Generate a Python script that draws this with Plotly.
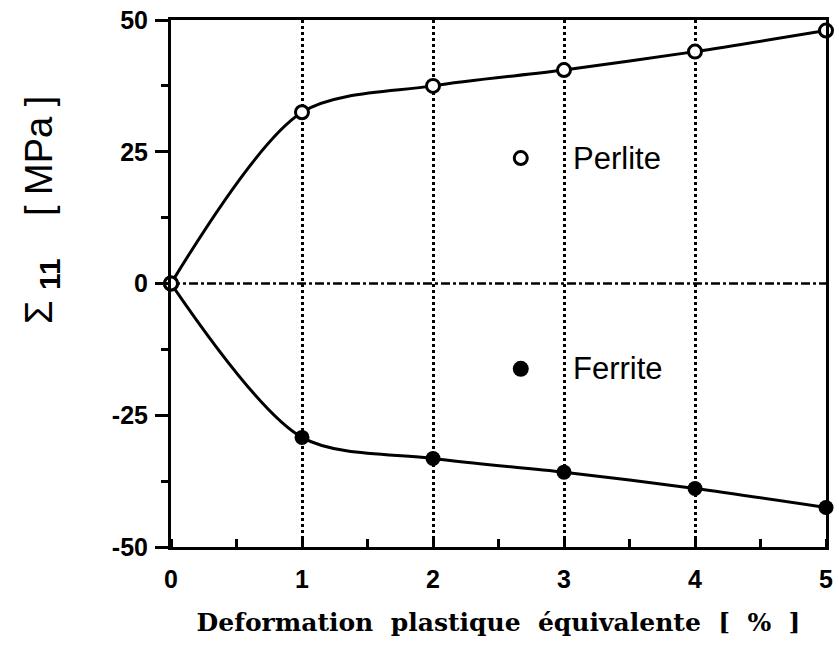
import plotly.graph_objects as go

# Equivalent plastic strain (%) and phase stress Sigma_11 (MPa)
strain = [0, 1, 2, 3, 4, 5]
perlite = [0, 32.5, 37.5, 40.5, 44.0, 48.0]
ferrite = [0, -29.2, -33.2, -35.8, -38.9, -42.5]

x_ticks = [0, 1, 2, 3, 4, 5]
y_ticks = [-50, -25, 0, 25, 50]

# legend keys drawn inside the plot
key_x = 2.67
key_perlite_y = 23.8
key_ferrite_y = -16.2
text_x = 3.05

BLACK = "black"
SANS = "Liberation Sans, Arial, sans-serif"
tick_font = dict(family=SANS, size=25, color=BLACK, weight="bold")
open_marker = dict(symbol="circle", size=13, color="white", line=dict(color=BLACK, width=3))

fig = go.Figure()

fig.add_hline(y=0, line=dict(color=BLACK, width=2.5, dash="dashdot"), layer="below")

fig.add_trace(go.Scatter(
    x=strain, y=perlite, mode="lines+markers", cliponaxis=False,
    line=dict(color=BLACK, width=3, shape="spline", smoothing=0.85),
    marker=open_marker, showlegend=False,
))
fig.add_trace(go.Scatter(
    x=strain[1:], y=ferrite[1:], mode="markers", cliponaxis=False,
    marker=dict(symbol="circle", size=15, color=BLACK), showlegend=False,
))
fig.add_trace(go.Scatter(
    x=strain, y=ferrite, mode="lines", cliponaxis=False,
    line=dict(color=BLACK, width=3, shape="spline", smoothing=0.85),
    showlegend=False,
))
# origin marker on top of both curves
fig.add_trace(go.Scatter(
    x=[strain[0]], y=[perlite[0]], mode="markers", cliponaxis=False,
    marker=open_marker, showlegend=False,
))

# in-plot key
fig.add_trace(go.Scatter(
    x=[key_x], y=[key_perlite_y], mode="markers",
    marker=open_marker, showlegend=False,
))
fig.add_trace(go.Scatter(
    x=[key_x], y=[key_ferrite_y], mode="markers",
    marker=dict(symbol="circle", size=16, color=BLACK), showlegend=False,
))
key_font = dict(family=SANS, size=31, color=BLACK)
fig.add_annotation(x=text_x, y=key_perlite_y, text="Perlite", showarrow=False,
                   xanchor="left", yanchor="middle", font=key_font)
fig.add_annotation(x=text_x, y=key_ferrite_y, text="Ferrite", showarrow=False,
                   xanchor="left", yanchor="middle", font=key_font)

# y-axis title
fig.add_annotation(
    xref="paper", yref="paper", x=-0.198, y=0.64, textangle=-90,
    text="Σ\u00a0<sub><b><span style='font-size:30px'>11</span></b></sub>\u00a0\u00a0\u00a0\u00a0[ MPa ]",
    showarrow=False, xanchor="center", yanchor="middle",
    font=dict(family=SANS, size=38, color=BLACK),
)

fig.update_xaxes(
    range=[0, 5], tickvals=x_ticks, ticktext=[str(v) for v in x_ticks],
    ticks="", tickfont=tick_font, ticklabelstandoff=8,
    showline=True, linecolor=BLACK, linewidth=3, mirror=True,
    showgrid=True, gridcolor=BLACK, gridwidth=2.5, griddash="dot",
    zeroline=False,
    minor=dict(ticks="inside", ticklen=8, tickwidth=3, tickcolor=BLACK, dtick=0.5, showgrid=False),
    title=dict(text="Deformation\u00a0 plastique\u00a0 équivalente\u00a0 [\u00a0 %\u00a0 ]", standoff=22,
               font=dict(family="DejaVu Serif, serif", size=25, color=BLACK, weight="bold")),
)
fig.update_yaxes(
    range=[-50, 50], tickvals=y_ticks, ticktext=[str(v) for v in y_ticks],
    ticks="outside", ticklen=13, tickwidth=3, tickcolor=BLACK, tickfont=tick_font,
    ticklabelstandoff=2,
    showline=True, linecolor=BLACK, linewidth=3, mirror=True,
    showgrid=False, zeroline=False,
    minor=dict(ticks="outside", ticklen=7, tickwidth=3, tickcolor=BLACK, dtick=12.5, showgrid=False),
)

fig.update_layout(
    width=839, height=645,
    margin=dict(l=171, r=6, t=17, b=98),
    paper_bgcolor="white", plot_bgcolor="white",
    showlegend=False,
)

fig.write_html("out.html")
